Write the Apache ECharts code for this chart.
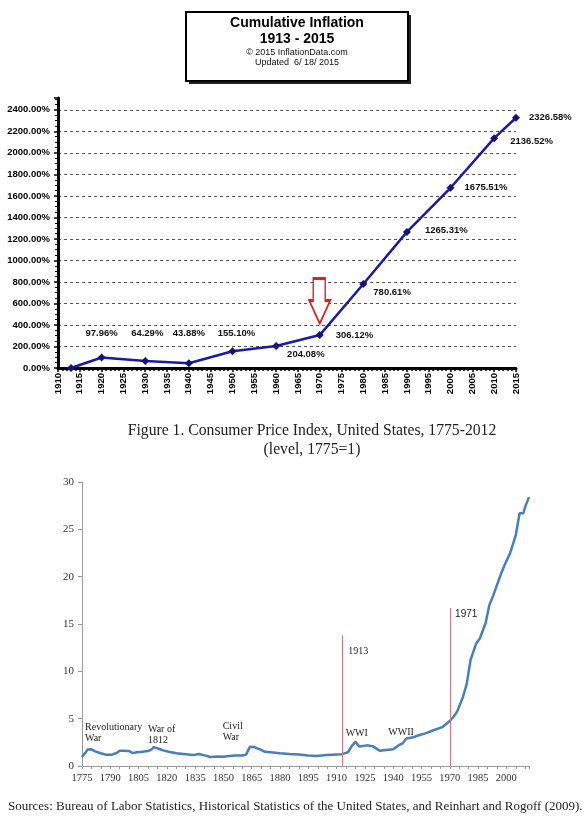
<!DOCTYPE html>
<html>
<head>
<meta charset="utf-8">
<script src="https://cdn.jsdelivr.net/npm/echarts@6/dist/echarts.min.js"></script>
<style>
  html, body { margin: 0; padding: 0; background: #fff; }
  #chart { width: 586px; height: 819px; }
</style>
</head>
<body>
<div id="chart"></div>
<script>
// top chart: cumulative inflation since 1913
var inflationYears = [1913, 1920, 1930, 1940, 1950, 1960, 1970, 1980, 1990, 2000, 2010, 2015];
var inflationPct = [0, 97.96, 64.29, 43.88, 155.10, 204.08, 306.12, 780.61, 1265.31, 1675.51, 2136.52, 2326.58];
var topYStep = 200;
var topXStep = 5;

// bottom chart: CPI level, 1775 = 1
var cpiYears = [1775, 1777, 1778, 1780, 1782, 1785, 1788, 1791, 1793, 1795, 1797, 1800,
  1802, 1804, 1807, 1810, 1812, 1813, 1814, 1816, 1818, 1821, 1825, 1830, 1834, 1837,
  1840, 1843, 1847, 1850, 1853, 1856, 1860, 1862, 1864, 1866, 1870, 1872, 1875, 1880,
  1885, 1890, 1895, 1899, 1905, 1910, 1913, 1916, 1918, 1920, 1922, 1926, 1929, 1933,
  1936, 1940, 1943, 1945, 1947, 1950, 1954, 1957, 1961, 1966, 1970, 1972, 1974, 1977,
  1979, 1981, 1984, 1986, 1989, 1991, 1993, 1995, 1997, 1999, 2002, 2005, 2007, 2009,
  2010, 2012];
var cpiLevels = [0.95, 1.45, 1.75, 1.76, 1.55, 1.35, 1.18, 1.2, 1.35, 1.6, 1.62, 1.58,
  1.36, 1.45, 1.5, 1.58, 1.75, 2.0, 2.16, 1.8, 1.65, 1.5, 1.35, 1.25, 1.15, 1.27,
  1.12, 0.95, 1.0, 0.98, 1.05, 1.12, 1.1, 1.2, 2.04, 2.02, 1.7, 1.5, 1.45, 1.35,
  1.28, 1.22, 1.12, 1.05, 1.15, 1.22, 1.25, 1.45, 2.1, 2.55, 2.05, 2.18, 2.1, 1.6,
  1.7, 1.76, 2.2, 2.4, 2.9, 3.0, 3.27, 3.45, 3.75, 4.1, 4.75, 5.2, 5.8, 7.3,
  8.7, 11.2, 12.95, 13.5, 15.1, 17.0, 18.0, 19.1, 20.2, 21.2, 22.5, 24.4, 26.7, 26.7,
  27.4, 28.4];
var cpiBaseYear = 1775;
var cpiEndYear = 2012;
var cpiXStep = 15;
var cpiYStep = 5;
var markerYears = [1913, 1970];
var markerTops = [13.8, 16.7];

// label placement for the top chart points
var topLabelPlace = [
  { show: false },
  { position: 'top', distance: 15 },
  { position: 'top', distance: 19, offset: [2, 0] },
  { position: 'top', distance: 21 },
  { position: 'top', distance: 9, offset: [4, 0] },
  { position: 'right', distance: 7, offset: [0, 8] },
  { position: 'right', distance: 12 },
  { position: 'right', distance: 6, offset: [0, 8] },
  { position: 'right', distance: 14, offset: [0, -2] },
  { position: 'right', distance: 10 },
  { position: 'right', distance: 12, offset: [0, 3] },
  { position: 'right', distance: 9 }
];

// text notes on the bottom chart, anchored in data units
var notes = [
  { text: 'Revolutionary\nWar', year: 1776.6, level: 4.65, v: 'top', font: 'serif' },
  { text: 'War of\n1812', year: 1810, level: 4.44, v: 'top', font: 'serif' },
  { text: 'Civil\nWar', year: 1849.6, level: 4.78, v: 'top', font: 'serif' },
  { text: 'WWI', year: 1914.8, level: 3.45, v: 'middle', font: 'serif' },
  { text: 'WWII', year: 1937.4, level: 3.56, v: 'middle', font: 'serif' },
  { text: '1913', year: 1916.2, level: 12.07, v: 'middle', font: 'serif' },
  { text: '1971', year: 1972.8, level: 16.06, v: 'middle', font: 'sans' }
];

var sans = 'Liberation Sans, Arial, sans-serif';
var serif = 'Liberation Serif, Times New Roman, serif';

var chart = echarts.init(document.getElementById('chart'));

var topData = inflationYears.map(function (y, i) {
  return { value: [y, inflationPct[i]], label: topLabelPlace[i] };
});
var cpiData = cpiYears.map(function (y, i) {
  return [y - cpiBaseYear, cpiLevels[i]];
});
var markerLines = markerYears.map(function (y, i) {
  return [{ coord: [y - cpiBaseYear, 0] }, { coord: [y - cpiBaseYear, markerTops[i]] }];
});

var arrowPath = 'path://M4,0 L16,0 L16,22 L21,22 L10.5,45 L0,22 L4,22 Z';

chart.setOption({
  animation: false,
  grid: [
    { left: 58, top: 98, width: 458, height: 270 },
    { left: 82, top: 482, width: 447, height: 284 }
  ],
  xAxis: [
    {
      gridIndex: 0, type: 'value', min: 1910, max: 2015, interval: topXStep,
      axisLine: { lineStyle: { color: '#000', width: 3 } },
      axisTick: { length: 4, lineStyle: { color: '#000', width: 1.5 } },
      minorTick: { show: true, splitNumber: 5, length: 3, lineStyle: { color: '#000', width: 1.5 } },
      splitLine: { show: false },
      axisLabel: {
        rotate: 90, margin: 5, color: '#000', fontFamily: sans, fontWeight: 'bold', fontSize: 9.5,
        formatter: function (v) { return String(v); }
      }
    },
    {
      gridIndex: 1, type: 'value', min: 0, max: cpiEndYear - cpiBaseYear, interval: cpiXStep,
      axisLine: { lineStyle: { color: '#999', width: 1 } },
      axisTick: { length: 3, lineStyle: { color: '#999' } },
      minorTick: { show: true, splitNumber: 3, length: 3, lineStyle: { color: '#999' } },
      splitLine: { show: false },
      axisLabel: {
        showMaxLabel: false, margin: 7, color: '#333', fontFamily: serif, fontSize: 10.5,
        formatter: function (v) { return String(v + cpiBaseYear); }
      }
    }
  ],
  yAxis: [
    {
      gridIndex: 0, type: 'value', min: 0, max: 2510, interval: topYStep,
      axisLine: { show: true, lineStyle: { color: '#000', width: 3 } },
      axisTick: { show: true, length: 4, lineStyle: { color: '#000', width: 1.5 } },
      minorTick: { show: true, splitNumber: 4, length: 3, lineStyle: { color: '#000', width: 1 } },
      splitLine: { show: true, showMaxLine: false, lineStyle: { color: '#555', type: [3, 3], width: 1 } },
      axisLabel: {
        showMaxLabel: false, margin: 8, color: '#000', fontFamily: sans, fontWeight: 'bold', fontSize: 9.5,
        formatter: function (v) { return v.toFixed(2) + '%'; }
      }
    },
    {
      gridIndex: 1, type: 'value', min: 0, max: 30, interval: cpiYStep,
      axisLine: { show: true, lineStyle: { color: '#999', width: 1 } },
      axisTick: { show: true, length: 4, lineStyle: { color: '#999' } },
      splitLine: { show: false },
      axisLabel: { margin: 8, color: '#333', fontFamily: serif, fontSize: 11 }
    }
  ],
  series: [
    {
      type: 'line', xAxisIndex: 0, yAxisIndex: 0, data: topData,
      symbol: 'diamond', symbolSize: 8,
      lineStyle: { color: '#1a1aa8', width: 2.5 },
      itemStyle: { color: '#13137a' },
      label: { show: true, color: '#111', fontFamily: sans, fontWeight: 'bold', fontSize: 9.5,
        formatter: function (p) { return p.value[1].toFixed(2) + '%'; } },
      markPoint: {
        symbol: arrowPath, symbolSize: [21, 45], symbolOffset: [0, -34],
        itemStyle: { color: '#fff', borderColor: '#e0201c', borderWidth: 2 },
        label: { show: false },
        data: [{ coord: [inflationYears[6], inflationPct[6]] }]
      },
      z: 3
    },
    {
      type: 'line', xAxisIndex: 1, yAxisIndex: 1, data: cpiData,
      symbol: 'none', smooth: false,
      lineStyle: { color: '#4a7ebb', width: 2.5 },
      markLine: {
        silent: true, symbol: 'none', label: { show: false },
        lineStyle: { color: '#c97a7e', width: 1, type: 'solid' },
        data: markerLines
      },
      z: 3
    }
  ]
});

// title box, captions and notes
var graphics = [
  { type: 'rect', shape: { x: 189, y: 15, width: 222, height: 69 }, style: { fill: '#222' }, z: 10 },
  { type: 'rect', shape: { x: 186, y: 12, width: 222, height: 69 }, style: { fill: '#fff', stroke: '#000', lineWidth: 2 }, z: 11 },
  { type: 'text', x: 297, y: 23, z: 12, style: { text: 'Cumulative Inflation', font: 'bold 14px ' + sans, fill: '#000', align: 'center', verticalAlign: 'middle' } },
  { type: 'text', x: 297, y: 39, z: 12, style: { text: '1913 - 2015', font: 'bold 14px ' + sans, fill: '#000', align: 'center', verticalAlign: 'middle' } },
  { type: 'text', x: 297, y: 52.5, z: 12, style: { text: '\u00a9 2015 InflationData.com', font: '9px ' + sans, fill: '#111', align: 'center', verticalAlign: 'middle' } },
  { type: 'text', x: 297, y: 62.5, z: 12, style: { text: 'Updated  6/ 18/ 2015', font: '9px ' + sans, fill: '#111', align: 'center', verticalAlign: 'middle' } },
  { type: 'text', x: 312, y: 431, style: { text: 'Figure 1. Consumer Price Index, United States, 1775-2012', font: '15.7px ' + serif, fill: '#222', align: 'center', verticalAlign: 'middle' } },
  { type: 'text', x: 312, y: 450, style: { text: '(level, 1775=1)', font: '15.7px ' + serif, fill: '#222', align: 'center', verticalAlign: 'middle' } },
  { type: 'text', x: 8, y: 807, style: { text: 'Sources: Bureau of Labor Statistics, Historical Statistics of the United States, and Reinhart and Rogoff (2009).', font: '13px ' + serif, fill: '#222', align: 'left', verticalAlign: 'middle' } }
];
notes.forEach(function (n) {
  var p = chart.convertToPixel({ gridIndex: 1 }, [n.year - cpiBaseYear, n.level]);
  graphics.push({
    type: 'text', x: p[0], y: p[1], z: 5,
    style: {
      text: n.text, font: '10px ' + (n.font === 'sans' ? sans : serif), fill: '#222',
      align: 'left', verticalAlign: n.v, lineHeight: 11
    }
  });
});
chart.setOption({ graphic: graphics });
</script>
</body>
</html>
